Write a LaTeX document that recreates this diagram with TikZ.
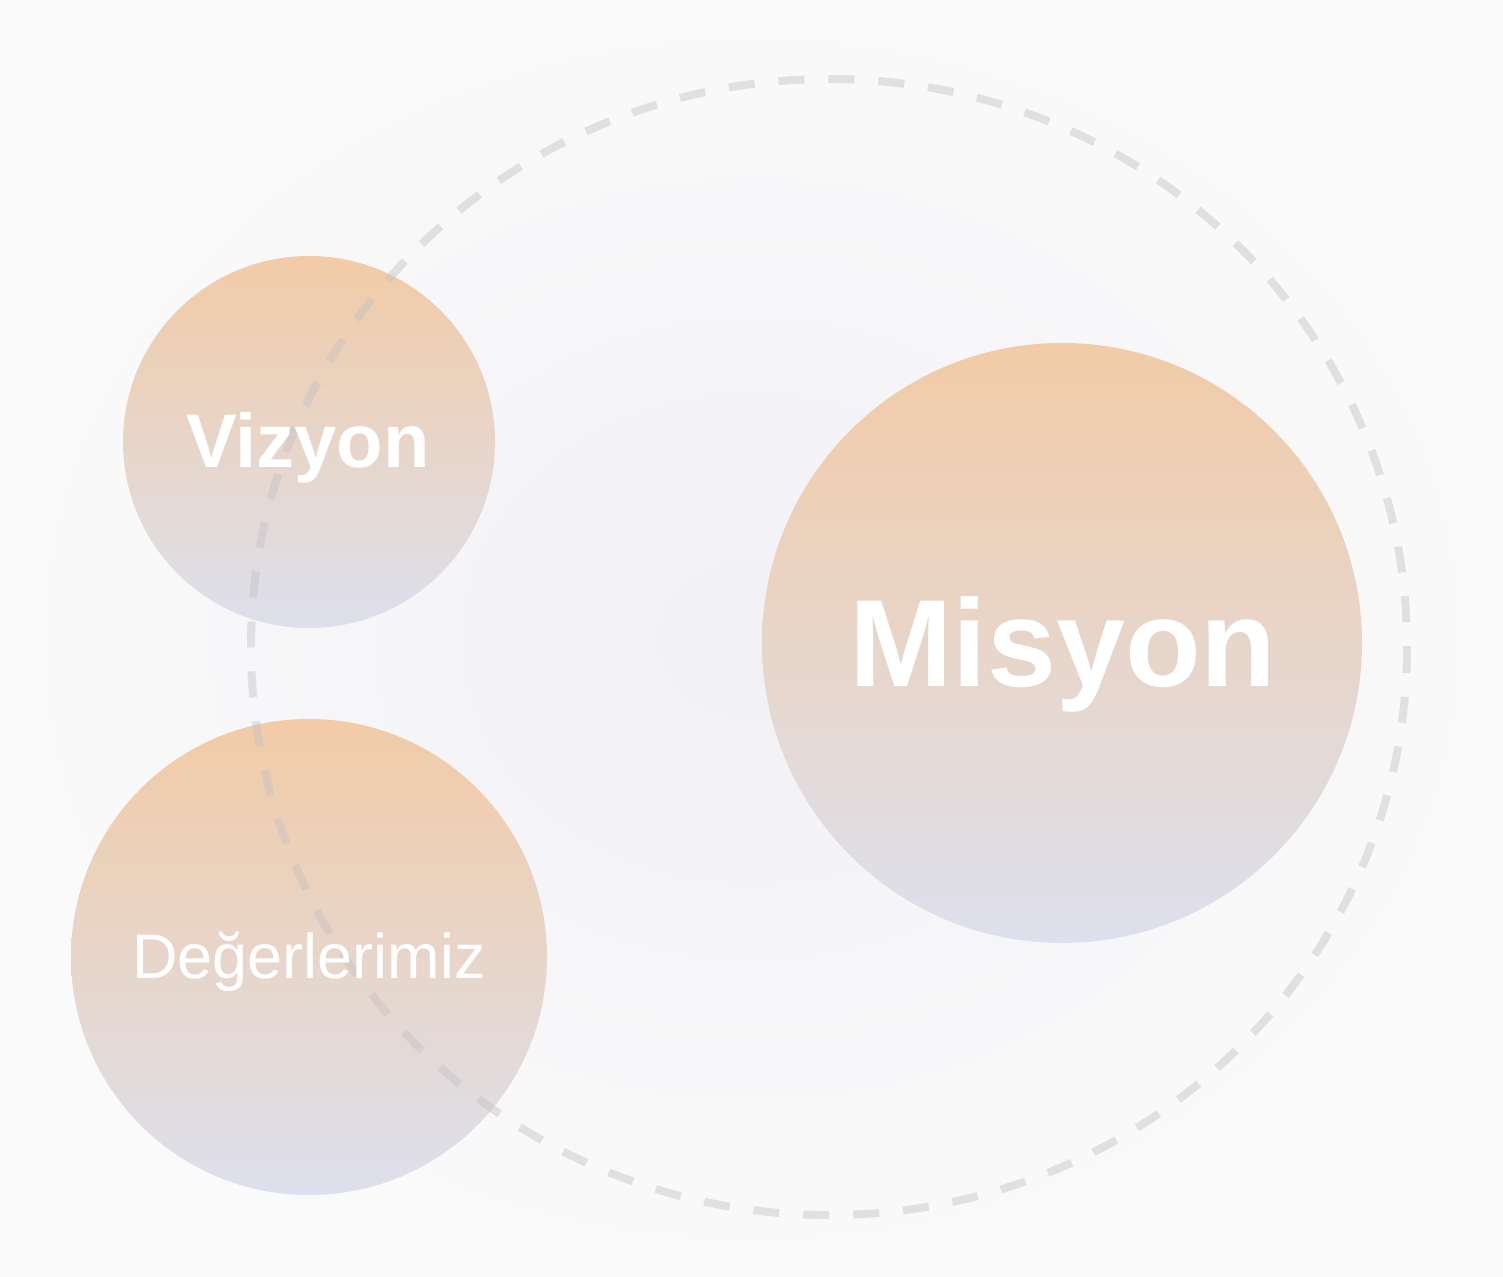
\documentclass[tikz,border=0pt]{standalone}
\usepackage{fontspec}
\setmainfont{Liberation Sans}
\usepackage{tikz}

\definecolor{peach}{RGB}{242,203,166}
\definecolor{lavender}{RGB}{221,224,237}
\definecolor{bgmid}{RGB}{241,241,246}
\definecolor{bgedge}{RGB}{250,250,250}
\definecolor{orbitgray}{RGB}{196,194,196}

\tikzset{
  bubble/.style={circle, inner sep=0pt, top color=peach, bottom color=lavender},
  orbit/.style={draw=orbitgray, opacity=0.45, line width=4pt, dash pattern=on 13pt off 12pt},
  caption/.style={text=white, anchor=base, inner sep=0pt}
}

\begin{document}
\begin{tikzpicture}[x=0.5pt,y=-0.5pt]
				\shade[inner color=bgmid, outer color=bgedge] (0,0) rectangle (1503,1277);
				\useasboundingbox (0,0) rectangle (1503,1277);
				\node[bubble, minimum size=186pt] (vizyon) at (309,442) {};
				\node[bubble, minimum size=238pt] (degerler) at (309,957) {};
				\node[bubble, minimum size=300pt] (misyon) at (1062,643) {};
				\draw[orbit] (829,647) ellipse [x radius=578, y radius=568];
				\node[caption, font=\bfseries\fontsize{38}{44}\selectfont] (vizyontext) at (308,468) {Vizyon};
				\node[caption, font=\fontsize{31.5}{36}\selectfont] (degerlertext) at (309,978) {Değerlerimiz};
				\node[caption, font=\bfseries\fontsize{62}{72}\selectfont] (misyontext) at (1063,686) {Misyon};
			\end{tikzpicture}
\end{document}
